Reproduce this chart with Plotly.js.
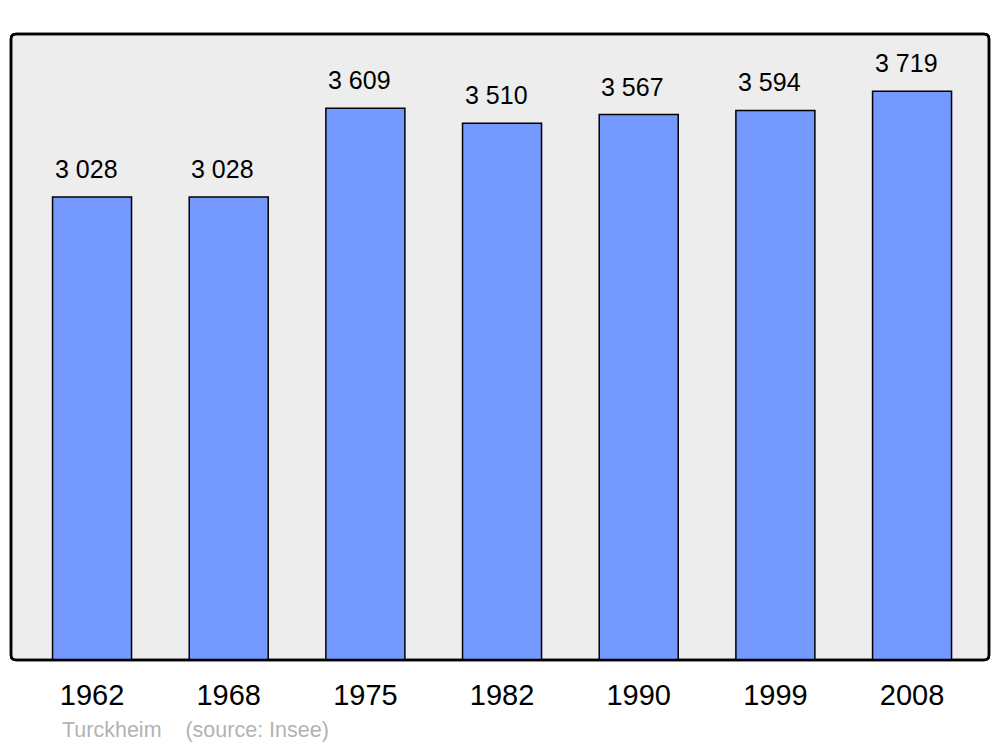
<!DOCTYPE html>
<html>
<head>
<meta charset="utf-8">
<script src="https://cdn.plot.ly/plotly-3.0.1.min.js"></script>
<style>html,body{margin:0;padding:0;background:#fff;}#chart{width:1000px;height:747px;}</style>
</head>
<body>
<div id="chart"></div>
<script>
const years = ["1962", "1968", "1975", "1982", "1990", "1999", "2008"];
const population = [3028, 3028, 3609, 3510, 3567, 3594, 3719];
const sourceText = "Turckheim\u00a0\u00a0\u00a0\u00a0(source: Insee)";

function fmt(v) {
  return String(v).replace(/\B(?=(\d{3})+(?!\d))/g, " ");
}

const trace = {
  type: "bar",
  x: years,
  y: population,
  marker: { color: "#7499ff", line: { color: "#000", width: 1.5 } },
  hoverinfo: "none"
};

const annotations = years.map((yr, i) => ({
  x: i, y: population[i], xref: "x", yref: "y",
  text: fmt(population[i]), showarrow: false,
  yanchor: "bottom", yshift: 12, xshift: -6,
  font: { family: "Liberation Sans, Arial, sans-serif", size: 25, color: "#000" }
}));
annotations.push({
  xref: "paper", yref: "paper", x: 0, y: 0, xanchor: "left", yanchor: "middle",
  xshift: 49, yshift: -70, showarrow: false, text: sourceText,
  font: { family: "Liberation Sans, Arial, sans-serif", size: 21.5, color: "#b3b3b3" }
});

const r = 5 / 978, ry = 5 / 626;
const path = `M ${r} 0 L ${1 - r} 0 Q 1 0 1 ${ry} L 1 ${1 - ry} Q 1 1 ${1 - r} 1 L ${r} 1 Q 0 1 0 ${1 - ry} L 0 ${ry} Q 0 0 ${r} 0 Z`;

const layout = {
  width: 1000, height: 747,
  margin: { l: 11, r: 11, t: 34, b: 87 },
  paper_bgcolor: "#fff",
  plot_bgcolor: "rgba(0,0,0,0)",
  bargap: 0.422,
  showlegend: false,
  xaxis: {
    type: "category", range: [-0.593, 6.563],
    showgrid: false, zeroline: false, showline: false, ticks: "",
    tickfont: { family: "Liberation Sans, Arial, sans-serif", size: 29, color: "#000" },
    ticklabelstandoff: 15
  },
  yaxis: {
    range: [0, 4094], showgrid: false, zeroline: false, showline: false,
    showticklabels: false, ticks: ""
  },
  shapes: [
    { type: "path", xref: "paper", yref: "paper", path: path,
      fillcolor: "#ededed", line: { color: "#000", width: 2.5 }, layer: "below" },
    { type: "path", xref: "paper", yref: "paper", path: path,
      fillcolor: "rgba(0,0,0,0)", line: { color: "#000", width: 2.5 }, layer: "above" }
  ],
  annotations: annotations
};

Plotly.newPlot("chart", [trace], layout, { staticPlot: true, displayModeBar: false });
</script>
</body>
</html>
